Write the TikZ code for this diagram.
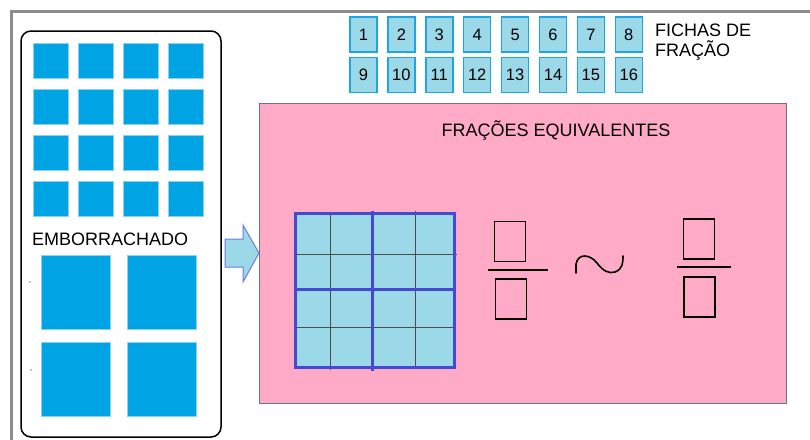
\documentclass[tikz,border=0pt]{standalone}
\usepackage{fontspec}
\setmainfont{Liberation Sans}
\usetikzlibrary{positioning}

\definecolor{peca}{RGB}{0,163,228}
\definecolor{pecaborda}{RGB}{140,210,240}
\definecolor{fichafundo}{RGB}{155,216,232}
\definecolor{fichaborda}{RGB}{30,165,228}
\definecolor{rosa}{RGB}{255,170,198}
\definecolor{azulgrade}{RGB}{68,72,212}
\definecolor{seta}{RGB}{110,125,215}

\begin{document}
\begin{tikzpicture}[x=1pt,y=-1pt,
    ficha/.style={draw=fichaborda, line width=1.5pt, fill=fichafundo,
      minimum width=27pt, minimum height=35pt, inner sep=0pt,
      font=\fontsize{16.5}{16.5}\selectfont},
    peca/.style={fill=peca, draw=pecaborda, line width=1pt},
    caixinha/.style={draw, line width=1.3pt, minimum width=31pt,
      minimum height=40pt, inner sep=0pt},
    rotulo/.style={font=\fontsize{18}{20}\selectfont, inner sep=0pt}]
  \useasboundingbox (0,0) rectangle (810,439);

  % moldura
  \draw[black!45, line width=3pt] (11,470) -- (11,11) -- (840,11);

  % caixa do emborrachado
  \draw[line width=1.5pt, rounded corners=10pt] (21,31) rectangle (221,437);
  \foreach \i in {0,...,3}
    \foreach \j in {0,...,3}
      \draw[peca] ({33+45*\i},{43+46*\j}) rectangle ++(35,35);
  \node[rotulo, anchor=base west] (emb) at (32,245) {EMBORRACHADO};
  \foreach \i in {0,1}
    \foreach \j in {0,1}
      \draw[peca] ({41+86*\i},{255+87*\j}) rectangle ++(69,74);
  \fill (30,282) circle (0.7pt);
  \fill (31,370) circle (0.7pt);

  % seta
  \draw[seta, fill=fichafundo, line width=1pt]
    (225,239) -- (243,239) -- (243,225) -- (259,253) -- (243,282)
    -- (243,267) -- (225,267) -- cycle;

  % quadro rosa
  \draw[fill=rosa, draw=black!55, line width=1pt] (259,103) rectangle (786,403);
  \node[rotulo, anchor=base] (titulo) at (556,136) {FRAÇÕES EQUIVALENTES};

  % grade 4x4
  \fill[fichafundo] (295,213) rectangle (454,367);
  \begin{scope}[black!70, line width=0.8pt]
    \draw (330,213) -- (330,370);
    \draw (415,211) -- (415,367);
    \draw (295,254) -- (457,254);
    \draw (295,327) -- (454,327);
  \end{scope}
  \begin{scope}[azulgrade, line width=3pt]
    \draw (295,213) rectangle (454,367);
    \draw (372,211) -- (372,371);
    \draw (295,289) -- (454,289);
  \end{scope}

  % frações
  \node[caixinha] (n1) at (510,241.5) {};
  \node[caixinha] (d1) at (511,299) {};
  \draw[line width=1.3pt] (488,270) -- (548,270);
  \node[caixinha] (n2) at (699,239) {};
  \node[caixinha] (d2) at (699.5,297) {};
  \draw[line width=1.3pt] (677,267) -- (731,267);
  \draw[line width=1.6pt, line cap=round]
    (576,273) -- (576,264) .. controls (578,253) and (590,254) .. (597,263)
    .. controls (603,271) and (609,274) .. (615,272)
    .. controls (623,269) and (623,262) .. (623,256);

  % fichas de fração
  \foreach \n in {1,...,8}
    \node[ficha] (f\n) at ({363.5+37.9*(\n-1)},34.5) {\n};
  \foreach \n in {9,...,16}
    \node[ficha] (f\n) at ({363.5+37.9*(\n-9)},75) {\n};
  \node[rotulo, anchor=north west, align=left] (fichas) at (655,24)
    {FICHAS DE\\FRAÇÃO};
\end{tikzpicture}
\end{document}
